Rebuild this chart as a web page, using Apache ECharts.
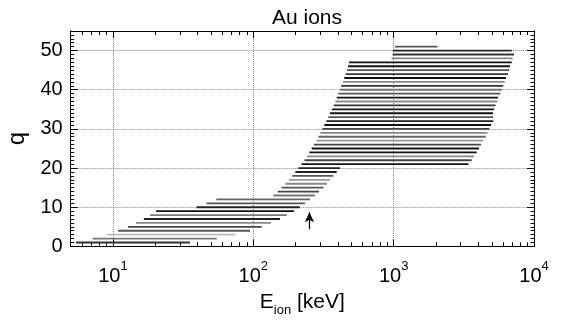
<!DOCTYPE html>
<html>
<head>
<meta charset="utf-8">
<script src="https://cdn.jsdelivr.net/npm/echarts@6/dist/echarts.min.js"></script>
<style>
  html, body { margin: 0; padding: 0; background: #fff; }
  #chart { width: 562px; height: 324px; }
</style>
</head>
<body>
<div id="chart"></div>
<script>
// charge state q and the energy window (keV) covered at each q
const qLevels = [1, 2, 3, 4, 5, 6, 7, 8, 9, 10, 11, 12, 13, 14, 15, 16, 17, 18, 19, 20,
  21, 22, 23, 24, 25, 26, 27, 28, 29, 30, 31, 32, 33, 34, 35, 36, 37, 38, 39, 40,
  41, 42, 43, 44, 45, 46, 47, 48, 49, 50, 51]
const eStart = [5.46, 7.17, 9.03, 10.9, 12.8, 14.6, 16.6, 18.4, 20.3, 39.4, 46.3, 54.5,
  138.8, 149.2, 159.1, 169, 179.7, 189.7, 199.3, 209.3, 220.6, 231.7, 241.4, 250.7,
  260.7, 270.7, 282.1, 290.6, 300.3, 310.3, 320.6, 331.3, 342.2, 352, 363.8, 374.1,
  384, 392.9, 403.4, 414.8, 423.6, 435.7, 445, 455.4, 465.3, 473, 480.8, 965, 985, 985, 1022]
const eEnd = [35.4, 54.9, 74.4, 94.7, 114.8, 133.7, 155, 173.9, 195, 215, 233.6, 253.5,
  275.3, 293.9, 315.4, 335, 352, 371.5, 392.9, 414.8, 3415, 3599, 3738, 3907, 4058,
  4193, 4354, 4529, 4649, 4804, 4943, 5129, 5105, 5105, 5190, 5318, 5470, 5541, 5754,
  5888, 6044, 6185, 6317, 6528, 6668, 6745, 6937, 7052, 7204, 6937, 2053]
const lineShades = ['#333', '#777', '#bbb', '#555', '#444', '#888', '#222', '#777', '#111', '#222',
  '#555', '#666', '#777', '#444', '#555', '#888', '#999', '#555', '#222', '#222',
  '#111', '#444', '#888', '#111', '#111', '#444', '#999', '#666', '#888', '#444',
  '#111', '#222', '#555', '#111', '#111', '#333', '#888', '#111', '#555', '#777',
  '#333', '#888', '#111', '#333', '#555', '#111', '#111', '#888', '#333', '#222', '#555']

// arrow marker
const arrowE = 251
const arrowQ = [4.4, 8.7]

// axis ticks
const xMajor = [10, 100, 1000, 10000]
const xMinor = [6, 7, 8, 9, 20, 30, 40, 50, 60, 70, 80, 90, 200, 300, 400, 500, 600, 700, 800, 900,
  2000, 3000, 4000, 5000, 6000, 7000, 8000, 9000]

const FONT = 'Liberation Sans, Arial, sans-serif'
const rows = qLevels.map((q, i) => [eStart[i], eEnd[i], q])

const chart = echarts.init(document.getElementById('chart'))

const baseX = {
  type: 'log',
  logBase: 10,
  min: 5,
  max: 10000,
  gridIndex: 0,
}

chart.setOption({
  backgroundColor: '#fff',
  animation: false,
  title: {
    text: 'Au ions',
    left: 302,
    top: 3,
    textAlign: 'center',
    textStyle: { fontFamily: FONT, fontSize: 21, fontWeight: 'normal', color: '#000' },
  },
  grid: { left: 70.7, right: 28, top: 31, bottom: 77.6, outerBoundsMode: 'none' },
  xAxis: [
    {
      ...baseX,
      position: 'bottom',
      name: '{e|E}{sub|ion}{e| [keV]}',
      nameLocation: 'middle',
      nameGap: 45,
      nameTextStyle: {
        rich: {
          e: { fontFamily: FONT, fontSize: 21, color: '#000', verticalAlign: 'top', lineHeight: 26 },
          sub: { fontFamily: FONT, fontSize: 13, color: '#000', verticalAlign: 'bottom', lineHeight: 15 },
        },
      },
      axisLine: { show: true, lineStyle: { color: '#000', width: 1 } },
      axisTick: { show: true, inside: true, length: 7, customValues: xMajor, lineStyle: { color: '#000' } },
      axisLabel: {
        customValues: xMajor,
        margin: 14,
        formatter: v => '{b|10}{s|' + Math.round(Math.log10(v)) + '}',
        rich: {
          b: { fontFamily: FONT, fontSize: 20, color: '#000', verticalAlign: 'bottom', lineHeight: 26 },
          s: { fontFamily: FONT, fontSize: 13, color: '#000', verticalAlign: 'top', lineHeight: 14 },
        },
      },
      splitLine: { show: true, lineStyle: { type: 'dotted', color: '#888', width: 1 } },
    },
    {
      ...baseX,
      position: 'bottom',
      axisLine: { show: false },
      axisTick: { show: true, inside: true, length: 4, customValues: xMinor, lineStyle: { color: '#000' } },
      axisLabel: { show: false },
      splitLine: { show: false },
    },
    {
      ...baseX,
      position: 'top',
      axisLine: { show: true, lineStyle: { color: '#000', width: 1 } },
      axisTick: { show: true, inside: true, length: 7, customValues: xMajor, lineStyle: { color: '#000' } },
      axisLabel: { show: false },
      splitLine: { show: false },
    },
    {
      ...baseX,
      position: 'top',
      axisLine: { show: false },
      axisTick: { show: true, inside: true, length: 4, customValues: xMinor, lineStyle: { color: '#000' } },
      axisLabel: { show: false },
      splitLine: { show: false },
    },
  ],
  yAxis: [
    {
      type: 'value',
      position: 'left',
      min: 0,
      max: 55,
      interval: 10,
      name: 'q',
      nameLocation: 'middle',
      nameGap: 37,
      nameRotate: 90,
      nameTextStyle: { fontFamily: FONT, fontSize: 24, color: '#000' },
      axisLine: { show: true, lineStyle: { color: '#000', width: 1 } },
      axisTick: { show: true, inside: true, length: 7, lineStyle: { color: '#000' } },
      minorTick: { show: true, splitNumber: 10, length: 3.5, lineStyle: { color: '#000' } },
      axisLabel: { fontFamily: FONT, fontSize: 20, color: '#000', margin: 8, showMaxLabel: false },
      splitLine: { show: true, lineStyle: { type: 'dotted', color: '#888', width: 1 } },
    },
    {
      type: 'value',
      position: 'right',
      min: 0,
      max: 55,
      interval: 10,
      axisLine: { show: true, lineStyle: { color: '#000', width: 1 } },
      axisTick: { show: true, inside: true, length: 7, lineStyle: { color: '#000' } },
      minorTick: { show: true, splitNumber: 10, length: 3.5, lineStyle: { color: '#000' } },
      axisLabel: { show: false },
      splitLine: { show: false },
    },
  ],
  series: [
    {
      type: 'custom',
      xAxisIndex: 0,
      yAxisIndex: 0,
      encode: { x: [0, 1], y: 2 },
      data: rows,
      renderItem: (params, api) => {
        const a = api.coord([api.value(0), api.value(2)])
        const b = api.coord([api.value(1), api.value(2)])
        return {
          type: 'line',
          shape: { x1: a[0], y1: a[1], x2: b[0], y2: b[1] },
          style: { stroke: lineShades[params.dataIndex], lineWidth: 1.8 },
        }
      },
      z: 3,
    },
    {
      type: 'line',
      xAxisIndex: 0,
      yAxisIndex: 0,
      data: [],
      markLine: {
        silent: true,
        symbol: ['none', 'arrow'],
        symbolSize: [7, 10],
        label: { show: false },
        lineStyle: { color: '#000', width: 1.2, type: 'solid' },
        data: [[{ coord: [arrowE, arrowQ[0]] }, { coord: [arrowE, arrowQ[1]] }]],
      },
    },
  ],
})
</script>
</body>
</html>
